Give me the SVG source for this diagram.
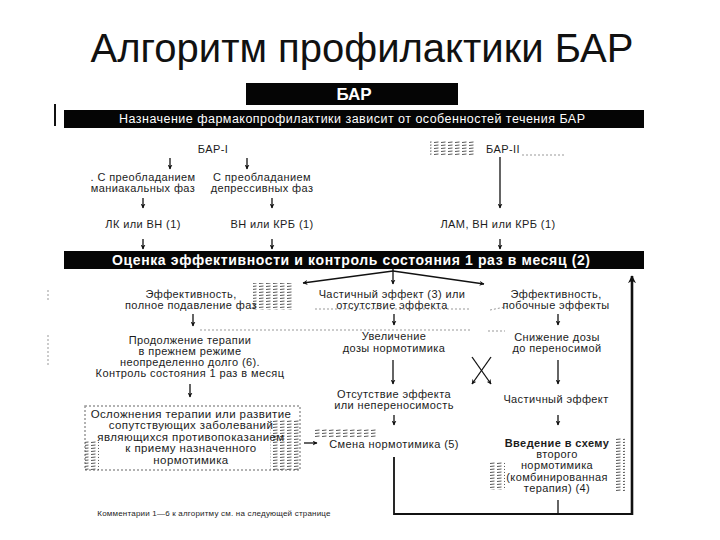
<svg xmlns="http://www.w3.org/2000/svg" width="720" height="540" viewBox="0 0 720 540">
<defs>
<marker id="ah" viewBox="0 0 10 10" refX="9" refY="5" markerWidth="5" markerHeight="5" orient="auto-start-reverse" markerUnits="userSpaceOnUse">
<path d="M0,0 L10,5 L0,10 L3,5 z" fill="#111"/>
</marker>
<marker id="ahb" viewBox="0 0 10 10" refX="9" refY="5" markerWidth="8" markerHeight="8" orient="auto" markerUnits="userSpaceOnUse">
<path d="M0,0 L10,5 L0,10 L3,5 z" fill="#111"/>
</marker>
<pattern id="hatch" width="7" height="3" patternUnits="userSpaceOnUse">
<path d="M0,1.5 L4.5,1" stroke="#555" stroke-width="1"/>
</pattern>
</defs>
<style>
.t{font-family:"Liberation Sans","DejaVu Sans",sans-serif;font-size:11px;fill:#1c1c1c;text-anchor:middle;letter-spacing:0.4px}
.w{font-family:"Liberation Sans","DejaVu Sans",sans-serif;fill:#fff;text-anchor:middle}
.bar{fill:#050505}
.c{stroke:#111;stroke-width:1.3;fill:none}
.a{marker-end:url(#ah)}
.h{fill:url(#hatch)}
.dl{stroke:#999;stroke-width:1;stroke-dasharray:2 2;fill:none}
</style>
<rect width="720" height="540" fill="#fff"/>
<g id="title"><text x="362" y="62" style="font-family:'Liberation Sans',Arial,sans-serif;font-size:40px;fill:#111;text-anchor:middle">Алгоритм профилактики БАР</text></g>

<g id="scan-marks">
<line x1="55" y1="104" x2="55" y2="126" stroke="#111" stroke-width="2"/>
<rect x="430" y="141" width="45" height="15" class="h"/>
<line x1="522" y1="155" x2="566" y2="155" class="dl"/>
<rect x="253" y="283" width="40" height="27" class="h"/>
<line x1="200" y1="330" x2="470" y2="330" class="dl"/>
<line x1="315" y1="309" x2="470" y2="309" class="dl"/>
<line x1="488" y1="331" x2="505" y2="331" class="dl"/>
<line x1="490" y1="310" x2="510" y2="306" class="dl"/>
<rect x="313" y="428" width="64" height="10" class="h"/>
<rect x="490" y="462" width="15" height="28" class="h"/>
<rect x="615" y="438" width="10" height="54" class="h"/>
<line x1="48" y1="290" x2="48" y2="302" class="dl"/>
<line x1="48" y1="335" x2="48" y2="365" class="dl"/>
</g>

<g id="bar-box">
<rect x="246" y="83" width="212" height="22" class="bar"/>
<text x="354" y="100" class="w" style="font-size:17px;font-weight:bold">БАР</text>
</g>
<g id="assign">
<rect x="64" y="110" width="580" height="18" class="bar"/>
<text x="352" y="123" class="w" style="font-size:12.5px" textLength="466" lengthAdjust="spacing">Назначение фармакопрофилактики зависит от особенностей течения БАР</text>
</g>
<g id="bar1"><text x="213" y="153" class="t">БАР-I</text></g>
<g id="mania"><text x="143" y="181" class="t">. С преобладанием</text><text x="143" y="192" class="t">маниакальных фаз</text></g>
<g id="depr"><text x="262" y="181" class="t">С преобладанием</text><text x="262" y="192" class="t">депрессивных фаз</text></g>
<g id="lk"><text x="143" y="228" class="t">ЛК или ВН (1)</text></g>
<g id="vn"><text x="272" y="228" class="t">ВН или КРБ (1)</text></g>
<g id="bar2"><text x="503" y="153" class="t">БАР-II</text></g>
<g id="lam"><text x="498" y="228" class="t">ЛАМ, ВН или КРБ (1)</text></g>
<g id="assess">
<rect x="64" y="251" width="580" height="18" class="bar"/>
<text x="351" y="265" class="w" style="font-size:14px;font-weight:bold" textLength="478" lengthAdjust="spacing">Оценка эффективности и контроль состояния 1 раз в месяц (2)</text>
</g>
<g id="eff-full"><text x="191" y="298" class="t">Эффективность,</text><text x="191" y="309" class="t">полное подавление фаз</text></g>
<g id="partial"><text x="392" y="298" class="t">Частичный эффект (3) или</text><text x="392" y="309" class="t">отсутствие эффекта</text></g>
<g id="eff-side"><text x="556" y="298" class="t">Эффективность,</text><text x="556" y="309" class="t">побочные эффекты</text></g>
<g id="continue"><text x="190" y="344" class="t">Продолжение терапии</text><text x="190" y="355" class="t">в прежнем режиме</text><text x="190" y="366" class="t">неопределенно долго (6).</text><text x="190" y="377" class="t">Контроль состояния 1 раз в месяц</text></g>
<g id="increase"><text x="394" y="340" class="t">Увеличение</text><text x="394" y="352" class="t">дозы нормотимика</text></g>
<g id="reduce"><text x="557" y="341" class="t">Снижение дозы</text><text x="557" y="352" class="t">до переносимой</text></g>
<g id="complication">
<rect x="85" y="406" width="215" height="64" fill="none" stroke="#999" stroke-width="1.5" stroke-dasharray="2 2"/>
<rect x="85" y="440" width="14" height="30" class="h"/>
<rect x="270" y="420" width="30" height="50" class="h"/>
<text x="191" y="418" class="t" style="font-size:11.5px">Осложнения терапии или развитие</text>
<text x="191" y="429" class="t" style="font-size:11.5px">сопутствующих заболеваний</text>
<text x="191" y="441" class="t" style="font-size:11.5px">являющихся противопоказанием</text>
<text x="191" y="452" class="t" style="font-size:11.5px">к приему назначенного</text>
<text x="191" y="464" class="t" style="font-size:11.5px">нормотимика</text>
</g>
<g id="absent"><text x="394" y="398" class="t">Отсутствие эффекта</text><text x="394" y="409" class="t">или непереносимость</text></g>
<g id="partial2"><text x="556" y="403" class="t">Частичный эффект</text></g>
<g id="change"><text x="394" y="448" class="t">Смена нормотимика (5)</text></g>
<g id="combo">
<text x="557" y="447" class="t" style="font-weight:bold">Введение в схему</text>
<text x="557" y="458" class="t">второго</text>
<text x="557" y="469" class="t">нормотимика</text>
<text x="557" y="481" class="t">(комбинированная</text>
<text x="557" y="492" class="t">терапия) (4)</text>
</g>
<g id="footer"><text x="214" y="516" class="t" style="font-size:8px;letter-spacing:0.2px">Комментарии 1—6 к алгоритму см. на следующей странице</text></g>

<g id="connectors">
<line x1="170" y1="158" x2="170" y2="169" class="c a"/>
<line x1="247" y1="158" x2="247" y2="169" class="c a"/>
<line x1="143" y1="198" x2="143" y2="208" class="c a"/>
<line x1="272" y1="198" x2="272" y2="208" class="c a"/>
<line x1="143" y1="239" x2="143" y2="249" class="c a"/>
<line x1="272" y1="239" x2="272" y2="249" class="c a"/>
<line x1="500" y1="157" x2="500" y2="208" class="c a"/>
<line x1="500" y1="239" x2="500" y2="249" class="c a"/>
<line x1="393" y1="269" x2="393" y2="284" class="c a"/>
<line x1="393" y1="271" x2="303" y2="283" class="c a"/>
<line x1="393" y1="271" x2="484" y2="284" class="c a"/>
<line x1="193" y1="314" x2="193" y2="326" class="c a"/>
<line x1="394" y1="314" x2="394" y2="325" class="c a"/>
<line x1="558" y1="314" x2="558" y2="325" class="c a"/>
<line x1="190" y1="384" x2="190" y2="397" class="c a"/>
<line x1="393" y1="360" x2="393" y2="384" class="c a"/>
<line x1="558" y1="360" x2="558" y2="384" class="c a"/>
<line x1="472" y1="357" x2="491" y2="384" class="c a"/>
<line x1="491" y1="357" x2="472" y2="384" class="c a"/>
<line x1="394" y1="415" x2="394" y2="425" class="c a"/>
<line x1="558" y1="415" x2="558" y2="425" class="c a"/>
<line x1="304" y1="443" x2="317" y2="443" class="c a"/>
<polyline points="394,457 394,514 632,514" class="c" style="stroke-width:1.8"/>
<line x1="558" y1="500" x2="558" y2="514" class="c"/>
<line x1="632" y1="515" x2="632" y2="276" class="c" style="stroke-width:2.6" marker-end="url(#ahb)"/>
</g>
</svg>
